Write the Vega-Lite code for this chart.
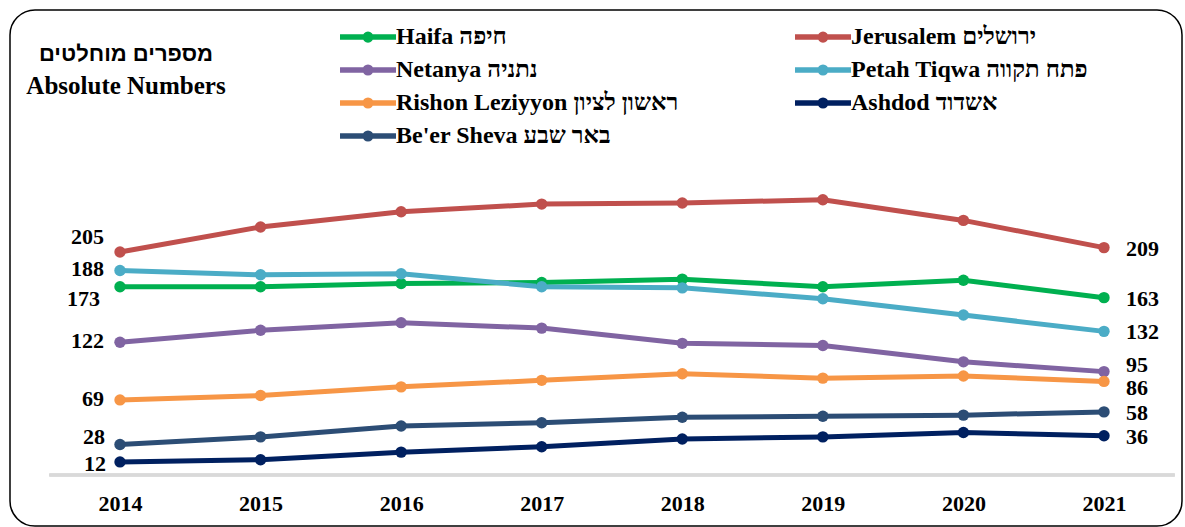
{
  "$schema": "https://vega.github.io/schema/vega-lite/v6.json",
  "width": 1172,
  "height": 516,
  "autosize": {"type": "none"},
  "padding": {"left": 10, "top": 10, "right": 3, "bottom": 1},
  "background": "white",
  "config": {
    "view": {"stroke": "#000", "strokeWidth": 1.5, "cornerRadius": 25},
    "font": "Liberation Serif"
  },
  "title": {
    "text": "מספרים מוחלטים",
    "subtitle": "Absolute Numbers",
    "anchor": "start",
    "align": "center",
    "dx": 116,
    "dy": 94,
    "font": "Liberation Sans",
    "fontSize": 22,
    "fontWeight": "bold",
    "color": "#000",
    "subtitleFont": "Liberation Serif",
    "subtitleFontSize": 25,
    "subtitleFontWeight": "bold",
    "subtitleColor": "#000",
    "subtitlePadding": 8
  },
  "data": {
    "values": [
      {"year": 2014, "city": "Haifa חיפה", "value": 173},
      {"year": 2015, "city": "Haifa חיפה", "value": 173},
      {"year": 2016, "city": "Haifa חיפה", "value": 176},
      {"year": 2017, "city": "Haifa חיפה", "value": 177},
      {"year": 2018, "city": "Haifa חיפה", "value": 180},
      {"year": 2019, "city": "Haifa חיפה", "value": 173},
      {"year": 2020, "city": "Haifa חיפה", "value": 179},
      {"year": 2021, "city": "Haifa חיפה", "value": 163},
      {"year": 2014, "city": "Jerusalem ירושלים", "value": 205},
      {"year": 2015, "city": "Jerusalem ירושלים", "value": 228},
      {"year": 2016, "city": "Jerusalem ירושלים", "value": 242},
      {"year": 2017, "city": "Jerusalem ירושלים", "value": 249},
      {"year": 2018, "city": "Jerusalem ירושלים", "value": 250},
      {"year": 2019, "city": "Jerusalem ירושלים", "value": 253},
      {"year": 2020, "city": "Jerusalem ירושלים", "value": 234},
      {"year": 2021, "city": "Jerusalem ירושלים", "value": 209},
      {"year": 2014, "city": "Netanya נתניה", "value": 122},
      {"year": 2015, "city": "Netanya נתניה", "value": 133},
      {"year": 2016, "city": "Netanya נתניה", "value": 140},
      {"year": 2017, "city": "Netanya נתניה", "value": 135},
      {"year": 2018, "city": "Netanya נתניה", "value": 121},
      {"year": 2019, "city": "Netanya נתניה", "value": 119},
      {"year": 2020, "city": "Netanya נתניה", "value": 104},
      {"year": 2021, "city": "Netanya נתניה", "value": 95},
      {"year": 2014, "city": "Petah Tiqwa פתח תקווה", "value": 188},
      {"year": 2015, "city": "Petah Tiqwa פתח תקווה", "value": 184},
      {"year": 2016, "city": "Petah Tiqwa פתח תקווה", "value": 185},
      {"year": 2017, "city": "Petah Tiqwa פתח תקווה", "value": 173},
      {"year": 2018, "city": "Petah Tiqwa פתח תקווה", "value": 172},
      {"year": 2019, "city": "Petah Tiqwa פתח תקווה", "value": 162},
      {"year": 2020, "city": "Petah Tiqwa פתח תקווה", "value": 147},
      {"year": 2021, "city": "Petah Tiqwa פתח תקווה", "value": 132},
      {"year": 2014, "city": "Rishon Leziyyon ראשון לציון", "value": 69},
      {"year": 2015, "city": "Rishon Leziyyon ראשון לציון", "value": 73},
      {"year": 2016, "city": "Rishon Leziyyon ראשון לציון", "value": 81},
      {"year": 2017, "city": "Rishon Leziyyon ראשון לציון", "value": 87},
      {"year": 2018, "city": "Rishon Leziyyon ראשון לציון", "value": 93},
      {"year": 2019, "city": "Rishon Leziyyon ראשון לציון", "value": 89},
      {"year": 2020, "city": "Rishon Leziyyon ראשון לציון", "value": 91},
      {"year": 2021, "city": "Rishon Leziyyon ראשון לציון", "value": 86},
      {"year": 2014, "city": "Ashdod אשדוד", "value": 12},
      {"year": 2015, "city": "Ashdod אשדוד", "value": 14},
      {"year": 2016, "city": "Ashdod אשדוד", "value": 21},
      {"year": 2017, "city": "Ashdod אשדוד", "value": 26},
      {"year": 2018, "city": "Ashdod אשדוד", "value": 33},
      {"year": 2019, "city": "Ashdod אשדוד", "value": 35},
      {"year": 2020, "city": "Ashdod אשדוד", "value": 39},
      {"year": 2021, "city": "Ashdod אשדוד", "value": 36},
      {"year": 2014, "city": "Be'er Sheva באר שבע", "value": 28},
      {"year": 2015, "city": "Be'er Sheva באר שבע", "value": 35},
      {"year": 2016, "city": "Be'er Sheva באר שבע", "value": 45},
      {"year": 2017, "city": "Be'er Sheva באר שבע", "value": 48},
      {"year": 2018, "city": "Be'er Sheva באר שבע", "value": 53},
      {"year": 2019, "city": "Be'er Sheva באר שבע", "value": 54},
      {"year": 2020, "city": "Be'er Sheva באר שבע", "value": 55},
      {"year": 2021, "city": "Be'er Sheva באר שבע", "value": 58}
    ]
  },
  "encoding": {
    "x": {
      "field": "year",
      "type": "quantitative",
      "scale": {"domain": [2013.2175, 2021.555], "nice": false, "zero": false},
      "axis": {
        "values": [2014, 2015, 2016, 2017, 2018, 2019, 2020, 2021],
        "format": "d",
        "domain": false,
        "ticks": false,
        "grid": false,
        "title": null,
        "offset": -51,
        "labelPadding": 18,
        "labelFlush": false,
        "labelOverlap": false,
        "labelFont": "Liberation Serif",
        "labelFontSize": 22,
        "labelFontWeight": "bold",
        "labelColor": "#000"
      }
    },
    "y": {
      "field": "value",
      "type": "quantitative",
      "scale": {"domain": [-46.9, 427.4], "nice": false, "zero": false},
      "axis": null
    }
  },
  "layer": [
    {
      "mark": {"type": "rule", "color": "#d9d9d9", "strokeWidth": 2.5},
      "encoding": {
        "x": {"datum": 2013.5},
        "x2": {"datum": 2021.5},
        "y": {"datum": 0}
      }
    },
    {
      "mark": {"type": "line", "strokeWidth": 5},
      "encoding": {
        "color": {
          "field": "city",
          "type": "nominal",
          "scale": {
            "domain": ["Haifa חיפה", "Netanya נתניה", "Rishon Leziyyon ראשון לציון", "Be'er Sheva באר שבע", "Jerusalem ירושלים", "Petah Tiqwa פתח תקווה", "Ashdod אשדוד"],
            "range": ["#00B050", "#8064A2", "#F79646", "#2C4D75", "#C0504D", "#4BACC6", "#002060"]
          },
          "legend": {
            "orient": "none",
            "legendX": 343,
            "legendY": 12,
            "columns": 2,
            "title": null,
            "padding": 0,
            "labelFont": "Liberation Serif",
            "labelFontSize": 24,
            "labelFontWeight": "bold",
            "labelColor": "#000",
            "labelLimit": 0,
            "labelOffset": 13,
            "symbolType": "M-2.333,0L2.333,0M-0.23,0A0.23,0.23,0,1,0,0.23,0A0.23,0.23,0,1,0,-0.23,0",
            "symbolSize": 576,
            "symbolStrokeWidth": 5.5,
            "rowPadding": 4,
            "columnPadding": 105,
            "encode": {"symbols": {"update": {"fill": {"scale": "color", "field": "value"}}}}
          }
        }
      }
    },
    {
      "mark": {"type": "point", "filled": true, "size": 130, "opacity": 1},
      "encoding": {
        "color": {"field": "city", "type": "nominal", "legend": null}
      }
    },
    {
      "transform": [
        {"filter": {"field": "year", "equal": 2014}},
        {"filter": {"field": "city", "oneOf": ["Petah Tiqwa פתח תקווה", "Netanya נתניה", "Rishon Leziyyon ראשון לציון"]}}
      ],
      "mark": {"type": "text", "align": "right", "baseline": "middle", "dx": -16, "dy": -1, "font": "Liberation Serif", "fontSize": 22, "fontWeight": "bold", "color": "#000"},
      "encoding": {"text": {"field": "value", "type": "quantitative"}}
    },
    {
      "transform": [
        {"filter": {"field": "year", "equal": 2014}},
        {"filter": {"field": "city", "equal": "Ashdod אשדוד"}}
      ],
      "mark": {"type": "text", "align": "right", "baseline": "middle", "dx": -14, "dy": 2, "font": "Liberation Serif", "fontSize": 22, "fontWeight": "bold", "color": "#000"},
      "encoding": {"text": {"field": "value", "type": "quantitative"}}
    },
    {
      "transform": [
        {"filter": {"field": "year", "equal": 2014}},
        {"filter": {"field": "city", "equal": "Jerusalem ירושלים"}}
      ],
      "mark": {"type": "text", "align": "right", "baseline": "middle", "dx": -16, "dy": -15, "font": "Liberation Serif", "fontSize": 22, "fontWeight": "bold", "color": "#000"},
      "encoding": {"text": {"field": "value", "type": "quantitative"}}
    },
    {
      "transform": [
        {"filter": {"field": "year", "equal": 2014}},
        {"filter": {"field": "city", "equal": "Haifa חיפה"}}
      ],
      "mark": {"type": "text", "align": "right", "baseline": "middle", "dx": -20, "dy": 12, "font": "Liberation Serif", "fontSize": 22, "fontWeight": "bold", "color": "#000"},
      "encoding": {"text": {"field": "value", "type": "quantitative"}}
    },
    {
      "transform": [
        {"filter": {"field": "year", "equal": 2014}},
        {"filter": {"field": "city", "equal": "Be'er Sheva באר שבע"}}
      ],
      "mark": {"type": "text", "align": "right", "baseline": "middle", "dx": -15, "dy": -8, "font": "Liberation Serif", "fontSize": 22, "fontWeight": "bold", "color": "#000"},
      "encoding": {"text": {"field": "value", "type": "quantitative"}}
    },
    {
      "transform": [
        {"filter": {"field": "year", "equal": 2021}},
        {"filter": {"field": "city", "oneOf": ["Jerusalem ירושלים", "Haifa חיפה", "Petah Tiqwa פתח תקווה", "Be'er Sheva באר שבע", "Ashdod אשדוד"]}}
      ],
      "mark": {"type": "text", "align": "left", "baseline": "middle", "dx": 22, "dy": 1, "font": "Liberation Serif", "fontSize": 22, "fontWeight": "bold", "color": "#000"},
      "encoding": {"text": {"field": "value", "type": "quantitative"}}
    },
    {
      "transform": [
        {"filter": {"field": "year", "equal": 2021}},
        {"filter": {"field": "city", "equal": "Netanya נתניה"}}
      ],
      "mark": {"type": "text", "align": "left", "baseline": "middle", "dx": 22, "dy": -7, "font": "Liberation Serif", "fontSize": 22, "fontWeight": "bold", "color": "#000"},
      "encoding": {"text": {"field": "value", "type": "quantitative"}}
    },
    {
      "transform": [
        {"filter": {"field": "year", "equal": 2021}},
        {"filter": {"field": "city", "equal": "Rishon Leziyyon ראשון לציון"}}
      ],
      "mark": {"type": "text", "align": "left", "baseline": "middle", "dx": 22, "dy": 7, "font": "Liberation Serif", "fontSize": 22, "fontWeight": "bold", "color": "#000"},
      "encoding": {"text": {"field": "value", "type": "quantitative"}}
    }
  ]
}
